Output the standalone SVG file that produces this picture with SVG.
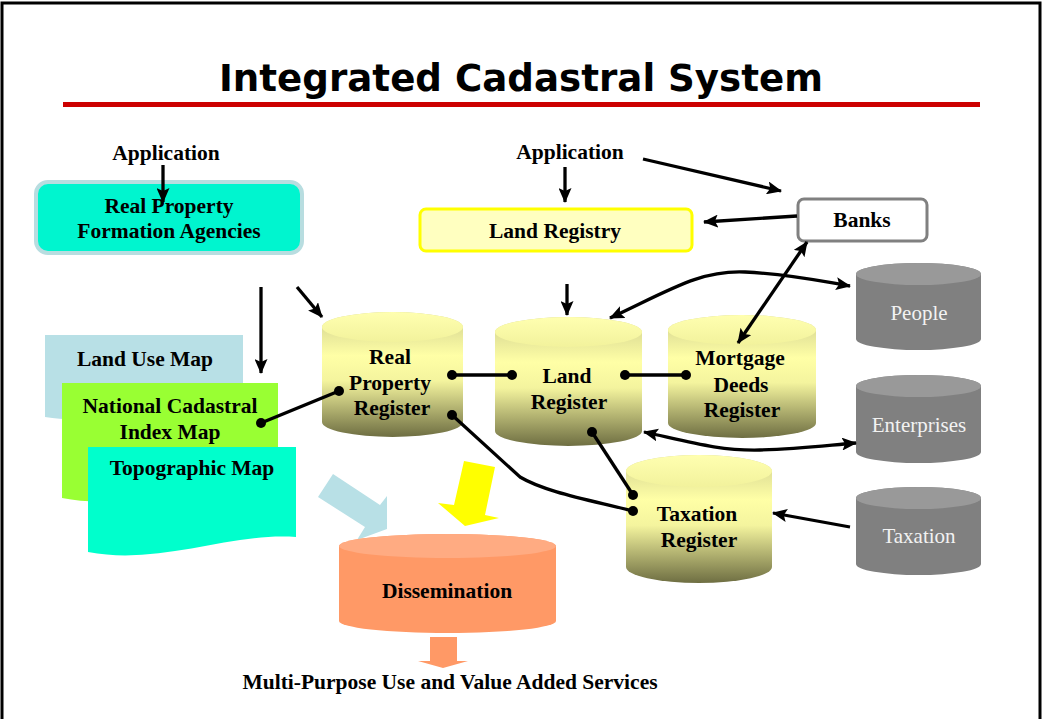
<svg xmlns="http://www.w3.org/2000/svg" width="1042" height="719" viewBox="0 0 1042 719">
<style>
.t{font-family:"Liberation Serif","Times New Roman",serif;font-weight:bold;font-size:21.5px;fill:#000;text-anchor:middle}
.g{font-family:"Liberation Serif","Times New Roman",serif;font-size:21px;fill:#f2f2f2;text-anchor:middle}
.ln{fill:none;stroke:#000;stroke-width:3.3}
.arr{marker-end:url(#ah)}
.arr2{marker-start:url(#ah);marker-end:url(#ah)}
.dot{fill:#000}
.yb{fill:url(#yg)}
.yt{fill:url(#yt)}
.gb{fill:#808080}
.gt{fill:#999999}
</style>
<defs>
<marker id="ah" markerWidth="15" markerHeight="13" refX="14" refY="6.5" orient="auto-start-reverse" markerUnits="userSpaceOnUse">
<path d="M0,0 L15,6.5 L0,13 L3,6.5 Z" fill="#000"/>
</marker>
<linearGradient id="yg" x1="0" y1="0" x2="0" y2="1">
<stop offset="0" stop-color="#cfcf8e"/>
<stop offset="0.35" stop-color="#ffffa6"/>
<stop offset="0.55" stop-color="#f4f49e"/>
<stop offset="1" stop-color="#6e6e42"/>
</linearGradient>
<linearGradient id="yt" x1="0" y1="0" x2="0" y2="1">
<stop offset="0" stop-color="#ffffb0"/>
<stop offset="1" stop-color="#f2f29c"/>
</linearGradient>
</defs>
<rect x="0" y="0" width="1042" height="719" fill="#fff"/>
<path d="M2,719 V3 H1040 V719" fill="none" stroke="#000" stroke-width="3"/>

<g id="title">
<text x="521" y="91" font-family="'DejaVu Sans',Verdana,sans-serif" font-weight="bold" font-size="37" text-anchor="middle" textLength="604" lengthAdjust="spacingAndGlyphs">Integrated Cadastral System</text>
<rect x="63" y="102" width="917" height="5" fill="#cc0000"/>
</g>

<g id="maps">
<g id="land-use-map">
<path d="M45,335 H243 V402 C180,396 110,428 45,417 Z" fill="#b8e0e6"/>
<text class="t" x="145" y="366">Land Use Map</text>
</g>
<g id="national-cadastral-index-map">
<path d="M62,383 H278 V486 C210,479 130,512 62,498 Z" fill="#99ff33"/>
<text class="t" x="170" y="413">National Cadastral</text>
<text class="t" x="170" y="439">Index Map</text>
</g>
<g id="topographic-map">
<path d="M88,447 H296 V537 C230,532 160,566 88,552 Z" fill="#00ffcc"/>
<text class="t" x="192" y="475">Topographic Map</text>
</g>
</g>

<g id="big-arrows">
<polygon points="333,474 380,505 387,496 387,529 357,540 365,527 318,497" fill="#b8e0e6"/>
<polygon points="464,461 495,467 485,515 499,518 465,526 438,503 454,505" fill="#ffff00"/>
<polygon points="430,637 457,637 457,661 468,661 443,668 418,661 430,661" fill="#ff9966"/>
</g>

<g id="app-left">
<text class="t" x="166" y="160">Application</text>
</g>
<g id="app-right">
<text class="t" x="570" y="159">Application</text>
</g>

<g id="rpfa">
<rect x="36" y="182" width="266" height="71" rx="12" fill="#00f5cf" stroke="#b8dde0" stroke-width="4"/>
<text class="t" x="169" y="213">Real Property</text>
<text class="t" x="169" y="238">Formation Agencies</text>
</g>

<g id="land-registry">
<rect x="420" y="209" width="272" height="42" rx="6" fill="#ffffc0" stroke="#ffff00" stroke-width="3"/>
<text class="t" x="555" y="238">Land Registry</text>
</g>

<g id="banks">
<rect x="798" y="199" width="129" height="42" rx="6" fill="#fff" stroke="#808080" stroke-width="3"/>
<text class="t" x="862" y="227">Banks</text>
</g>

<g id="real-property-register">
<path class="yb" d="M322,327 V422 A70.5,15 0 0 0 463,422 V327 A70.5,15 0 0 0 322,327 Z"/>
<ellipse class="yt" cx="392.5" cy="327" rx="70.5" ry="15"/>
<text class="t" x="390" y="364">Real</text>
<text class="t" x="390" y="390">Property</text>
<text class="t" x="392" y="415">Register</text>
</g>

<g id="land-register">
<path class="yb" d="M495,332 V431 A73.5,15 0 0 0 642,431 V332 A73.5,15 0 0 0 495,332 Z"/>
<ellipse class="yt" cx="568.5" cy="332" rx="73.5" ry="15"/>
<text class="t" x="567" y="383">Land</text>
<text class="t" x="569" y="409">Register</text>
</g>

<g id="mortgage-deeds-register">
<path class="yb" d="M668,330 V423 A74,15 0 0 0 816,423 V330 A74,15 0 0 0 668,330 Z"/>
<ellipse class="yt" cx="742" cy="330" rx="74" ry="15"/>
<text class="t" x="740" y="365">Mortgage</text>
<text class="t" x="741" y="392">Deeds</text>
<text class="t" x="742" y="417">Register</text>
</g>

<g id="taxation-register">
<path class="yb" d="M626,471 V567 A73,16 0 0 0 772,567 V471 A73,16 0 0 0 626,471 Z"/>
<ellipse class="yt" cx="699" cy="471" rx="73" ry="16"/>
<text class="t" x="697" y="521">Taxation</text>
<text class="t" x="699" y="547">Register</text>
</g>

<g id="people">
<path class="gb" d="M856,274 V339 A62.5,11 0 0 0 981,339 V274 A62.5,11 0 0 0 856,274 Z"/>
<ellipse class="gt" cx="918.5" cy="274" rx="62.5" ry="11"/>
<text class="g" x="919" y="320">People</text>
</g>

<g id="enterprises">
<path class="gb" d="M856,386 V452 A62.5,11 0 0 0 981,452 V386 A62.5,11 0 0 0 856,386 Z"/>
<ellipse class="gt" cx="918.5" cy="386" rx="62.5" ry="11"/>
<text class="g" x="919" y="432">Enterprises</text>
</g>

<g id="taxation">
<path class="gb" d="M856,498 V564 A62.5,11 0 0 0 981,564 V498 A62.5,11 0 0 0 856,498 Z"/>
<ellipse class="gt" cx="918.5" cy="498" rx="62.5" ry="11"/>
<text class="g" x="919" y="543">Taxation</text>
</g>

<g id="dissemination">
<path d="M339,546 V621 A108.5,12 0 0 0 556,621 V546 A108.5,12 0 0 0 339,546 Z" fill="#ff9966"/>
<ellipse cx="447.5" cy="546" rx="108.5" ry="12" fill="#ffab82"/>
<text class="t" x="447" y="598">Dissemination</text>
</g>

<g id="services">
<text class="t" x="450" y="689">Multi-Purpose Use and Value Added Services</text>
</g>

<g id="connectors">
<line class="ln arr" x1="163" y1="165" x2="163" y2="202"/>
<line class="ln arr" x1="565" y1="167" x2="565" y2="202"/>
<line class="ln arr" x1="643" y1="159" x2="781" y2="191"/>
<line class="ln arr" x1="797" y1="216" x2="704" y2="222"/>
<line class="ln arr2" x1="807" y1="242" x2="738" y2="343"/>
<line class="ln arr" x1="261" y1="287" x2="261" y2="373"/>
<line class="ln arr" x1="297" y1="287" x2="322" y2="317"/>
<line class="ln arr" x1="567" y1="284" x2="567" y2="315"/>
<path class="ln arr2" d="M610,318 C670,290 700,270 745,272 C790,274 820,281 850,286"/>
<path class="ln arr2" d="M644,432 C690,442 720,451 760,450 C800,449 830,445 856,443"/>
<line class="ln arr" x1="850" y1="527" x2="773" y2="513"/>
<line class="ln" x1="452" y1="375" x2="512" y2="375"/>
<line class="ln" x1="625" y1="375" x2="686" y2="375"/>
<line class="ln" x1="261" y1="423" x2="339" y2="391"/>
<path class="ln" d="M452,415 L520,477 C545,492 590,500 633,511"/>
<line class="ln" x1="592" y1="432" x2="633" y2="495"/>
<circle class="dot" cx="452" cy="375" r="5"/>
<circle class="dot" cx="512" cy="375" r="5"/>
<circle class="dot" cx="625" cy="375" r="5"/>
<circle class="dot" cx="686" cy="375" r="5"/>
<circle class="dot" cx="261" cy="423" r="5"/>
<circle class="dot" cx="339" cy="391" r="5"/>
<circle class="dot" cx="452" cy="415" r="5"/>
<circle class="dot" cx="633" cy="511" r="5"/>
<circle class="dot" cx="592" cy="432" r="5"/>
<circle class="dot" cx="633" cy="495" r="5"/>
</g>
</svg>
